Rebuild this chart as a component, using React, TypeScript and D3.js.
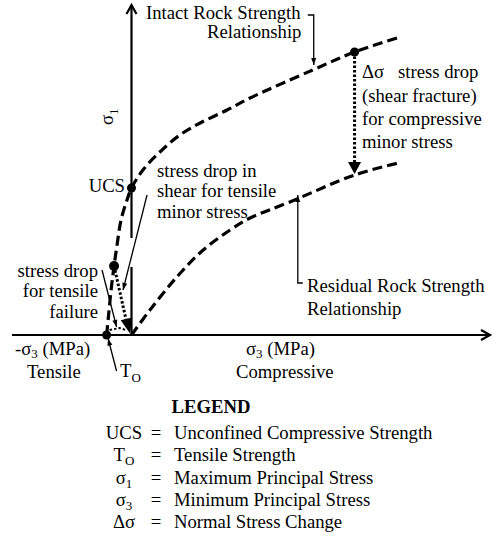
import React from "react";
import * as d3 from "d3";

// curve points, in stress units (sigma3, sigma1)
const intactPts: [number, number][] = [
  [-2.5, 0], [-2.3, 2.0], [-2.05, 4.5], [-1.75, 6.9], [-1.45, 9.0], [-1.05, 11.5],
  [-0.45, 13.5], [0, 14.7], [1.15, 16.5], [2.85, 18.3], [4.85, 20.0], [6.9, 21.2],
  [9.6, 22.5], [11.9, 23.7], [18.2, 26.5], [22.4, 28.3], [27.0, 29.8],
];
const residualPts: [number, number][] = [
  [0, 0], [1.85, 2.5], [4.55, 5.8], [7.2, 8.5], [9.9, 10.5], [11.9, 11.7],
  [15.9, 13.3], [22.4, 16.0], [26.8, 17.2],
];

// marked points
const ucsPt: [number, number] = [0, 14.7];
const peakPt: [number, number] = [22.4, 28.3];
const dropPt: [number, number] = [22.4, 16.0];
const tensPeakPt: [number, number] = [-1.75, 6.9];
const t0Pt: [number, number] = [-2.5, 0];

// thin pointer lines
const intactPointer: [number, number][] = [[17.7, 32.0], [18.3, 32.0], [18.3, 27.0]];
const residualPointer: [number, number][] = [[17.2, 5.2], [16.7, 5.2], [16.7, 14.0]];
const shearPointer: [number, number][] = [[1.56, 14.0], [-0.85, 4.5]];
const tensilePointer: [number, number][] = [[-2.96, 6.5], [-1.5, 0.8]];
const t0Pointer: [number, number][] = [[-1.5, -3.6], [-2.35, -0.35]];
const tensileDrop: [number, number][] = [[-2.2, 0.5], [-1.2, 0.7], [-0.6, 0.5]];

const legendSyms = ["UCS", "T", "σ", "σ", "Δσ"];
const legendSubs = ["", "O", "1", "3", ""];
const legendText = [
  "Unconfined Compressive Strength",
  "Tensile Strength",
  "Maximum Principal Stress",
  "Minimum Principal Stress",
  "Normal Stress Change",
];

const W = 501;
const H = 543;
const FONT = "'Liberation Serif', 'Times New Roman', serif";

const x = d3.scaleLinear().domain([-12, 36]).range([12, 490]);
const y = d3.scaleLinear().domain([0, 33]).range([335, 5]);

const curve = d3
  .line<[number, number]>()
  .x((d) => x(d[0]))
  .y((d) => y(d[1]))
  .curve(d3.curveCatmullRom.alpha(0.5));
const straight = d3
  .line<[number, number]>()
  .x((d) => x(d[0]))
  .y((d) => y(d[1]));

// filled arrowhead with its tip at `tip`, coming from `from`
function head(from: [number, number], tip: [number, number], len: number, wid: number) {
  const x0 = x(from[0]), y0 = y(from[1]);
  const x1 = x(tip[0]), y1 = y(tip[1]);
  const a = Math.atan2(y1 - y0, x1 - x0);
  const bx = x1 - len * Math.cos(a), by = y1 - len * Math.sin(a);
  const px = (wid / 2) * Math.sin(a), py = (wid / 2) * Math.cos(a);
  return `M${x1},${y1}L${bx + px},${by - py}L${bx - px},${by + py}Z`;
}

const App: React.FC = () => {
  const fs = 18.7;
  const pointers = [intactPointer, residualPointer, shearPointer, tensilePointer, t0Pointer];
  return (
    <svg
      width={W}
      height={H}
      style={{ position: "absolute", left: 0, top: 0, background: "#fff" }}
      fontFamily={FONT}
      fontSize={fs}
    >
      {/* axes */}
      <g stroke="#000" strokeWidth={2.2} fill="none">
        <line x1={x(-12)} x2={x(36)} y1={y(0)} y2={y(0)} />
        <path d={`M${x(36) - 9},${y(0) - 5}L${x(36)},${y(0)}L${x(36) - 9},${y(0) + 5}`} />
        <line x1={x(0)} x2={x(0)} y1={y(0)} y2={y(6.8)} />
        <line x1={x(0)} x2={x(0)} y1={y(9.7)} y2={y(33)} />
        <path d={`M${x(0) - 5},${y(33) + 9}L${x(0)},${y(33)}L${x(0) + 5},${y(33) + 9}`} />
      </g>

      {/* strength curves */}
      <g stroke="#000" strokeWidth={3.2} fill="none" strokeDasharray="10 5">
        <path d={curve(intactPts) ?? ""} />
        <path d={curve(residualPts) ?? ""} />
      </g>

      {/* stress drops */}
      <g stroke="#000" strokeWidth={3} fill="none" strokeDasharray="2.5 2">
        <path d={straight([peakPt, [dropPt[0], dropPt[1] + 1.1]]) ?? ""} />
        <path d={straight([tensPeakPt, [-0.45, 1.1]]) ?? ""} />
        <path d={straight(tensileDrop) ?? ""} strokeWidth={2} />
      </g>
      <g fill="#000">
        <path d={head(peakPt, [dropPt[0], dropPt[1] + 0.1], 12, 13)} />
        <path d={head(tensPeakPt, [-0.15, 0.15], 15, 12)} />
        {[ucsPt, peakPt, t0Pt].map((p, i) => (
          <circle key={i} cx={x(p[0])} cy={y(p[1])} r={4.5} />
        ))}
        <circle cx={x(tensPeakPt[0])} cy={y(tensPeakPt[1])} r={5} />
      </g>

      {/* pointers */}
      <g stroke="#000" strokeWidth={1.3} fill="none">
        {pointers.map((p, i) => (
          <path key={i} d={straight(p) ?? ""} />
        ))}
      </g>
      <g fill="#000">
        {pointers.map((p, i) => (
          <path key={i} d={head(p[p.length - 2], p[p.length - 1], 7, 5)} />
        ))}
      </g>

      {/* labels */}
      <g fill="#000">
        <text x={146} y={19}>Intact Rock Strength</text>
        <text x={207} y={38}>Relationship</text>
        <text transform="translate(113,125) rotate(-90)">
          σ<tspan fontSize={13} dy={5}>1</tspan>
        </text>
        <text x={125} y={192} textAnchor="end">UCS</text>
        <text x={157} y={177}>stress drop in</text>
        <text x={157} y={197}>shear for tensile</text>
        <text x={157} y={218}>minor stress</text>
        <text x={362} y={78}>Δσ</text>
        <text x={398} y={78}>stress drop</text>
        <text x={362} y={102}>(shear fracture)</text>
        <text x={362} y={125}>for compressive</text>
        <text x={362} y={148}>minor stress</text>
        <text x={307} y={292}>Residual Rock Strength</text>
        <text x={307} y={315}>Relationship</text>
        <g textAnchor="end">
          <text x={98} y={277}>stress drop</text>
          <text x={98} y={297}>for tensile</text>
          <text x={98} y={318}>failure</text>
        </g>
        <text x={15} y={355}>
          -σ<tspan fontSize={13} dy={3}>3</tspan>
          <tspan dy={-3}> (MPa)</tspan>
        </text>
        <text x={27} y={378}>Tensile</text>
        <text x={120} y={377}>
          T<tspan fontSize={13} dy={5}>O</tspan>
        </text>
        <text x={246} y={355}>
          σ<tspan fontSize={13} dy={3}>3</tspan>
          <tspan dy={-3}> (MPa)</tspan>
        </text>
        <text x={236} y={378}>Compressive</text>

        {/* legend */}
        <text x={211} y={413} textAnchor="middle" fontWeight="bold">LEGEND</text>
        {legendText.map((t, i) => {
          const by = 439 + i * 22.3;
          return (
            <g key={i}>
              <text x={124} y={by} textAnchor="middle">
                {legendSyms[i]}
                {legendSubs[i] && (
                  <tspan fontSize={13} dy={4}>{legendSubs[i]}</tspan>
                )}
              </text>
              <text x={156} y={by} textAnchor="middle">=</text>
              <text x={174} y={by}>{t}</text>
            </g>
          );
        })}
      </g>
    </svg>
  );
};

export default App;
